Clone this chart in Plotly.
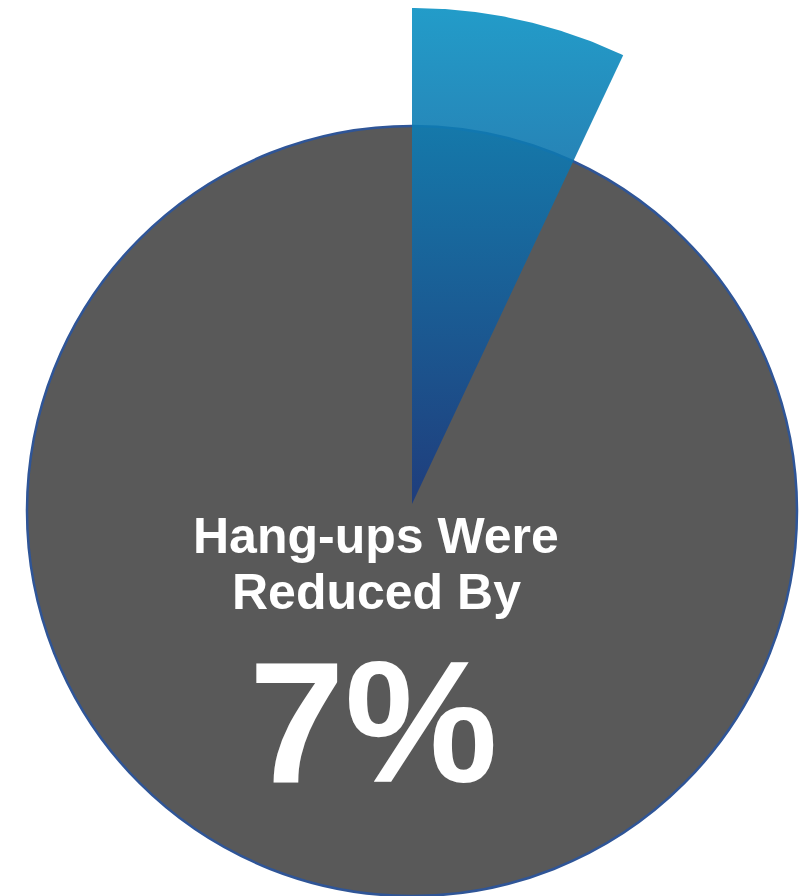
import numpy as np
import plotly.graph_objects as go

# ---- data ----
reduction_pct = [7]
headline_lines = ["Hang-ups Were", "Reduced By"]
value_label = [f"{reduction_pct[0]}%"]

# ---- geometry (pixel-unit axes) ----
W, H = 802, 896
CX_PX, CY_PX = 412, 511          # circle centre in page pixels
R_CIRCLE = 385
R_WEDGE = 496
APEX_DY = 7

x_range = [-CX_PX, W - CX_PX]
y_range = [-(H - CY_PX), CY_PX]

sweep = reduction_pct[0] / 100 * 360
theta = np.radians(90 - np.linspace(0, sweep, 80))
wx = np.concatenate([[0], R_WEDGE * np.cos(theta), [0]])
wy = np.concatenate([[APEX_DY], APEX_DY + R_WEDGE * np.sin(theta), [APEX_DY]])

fig = go.Figure()
fig.add_trace(go.Scatter(
    x=wx, y=wy, mode="lines", fill="toself",
    line=dict(width=0, color="rgba(0,0,0,0)"),
    fillgradient=dict(
        type="vertical",
        colorscale=[[0, "rgba(25,58,128,0.9)"], [1, "rgba(10,145,195,0.9)"]],
        start=APEX_DY, stop=APEX_DY + R_WEDGE,
    ),
    hoverinfo="skip", showlegend=False,
))

fig.add_shape(type="circle", xref="x", yref="y",
              x0=-R_CIRCLE, x1=R_CIRCLE, y0=-R_CIRCLE, y1=R_CIRCLE,
              fillcolor="#595959", line=dict(color="#2f5597", width=2.5),
              layer="below")

font = "Liberation Sans, Arial, Helvetica, sans-serif"
fig.add_annotation(x=-36, y=-25, text=f"<b>{headline_lines[0]}</b>", showarrow=False,
                   font=dict(family=font, size=50, color="white"),
                   xanchor="center", yanchor="middle")
fig.add_annotation(x=-36, y=-81, text=f"<b>{headline_lines[1]}</b>", showarrow=False,
                   font=dict(family=font, size=50, color="white"),
                   xanchor="center", yanchor="middle")
fig.add_annotation(x=-39, y=-211, text=f"<b>{value_label[0]}</b>", showarrow=False,
                   font=dict(family=font, size=172, color="white"),
                   xanchor="center", yanchor="middle")

fig.update_xaxes(range=x_range, visible=False, fixedrange=True)
fig.update_yaxes(range=y_range, visible=False, fixedrange=True)
fig.update_layout(width=W, height=H, margin=dict(l=0, r=0, t=0, b=0),
                  paper_bgcolor="white", plot_bgcolor="white", showlegend=False)

fig.write_html("out.html")
